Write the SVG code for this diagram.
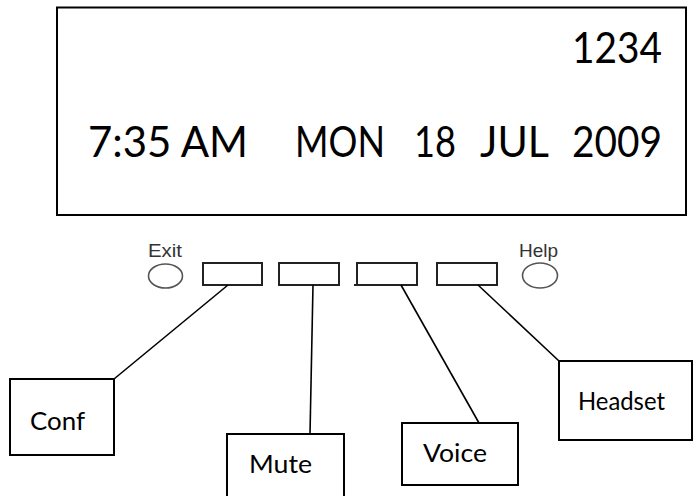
<svg xmlns="http://www.w3.org/2000/svg" width="693" height="496" viewBox="0 0 693 496">
<style>
.box{fill:#fff;stroke:#000;stroke-width:2}
.key{fill:#fff;stroke:#222;stroke-width:2}
.led{fill:none;stroke:#555;stroke-width:1.6}
.big{font-family:Lato,"Open Sans",sans-serif;font-size:42px;fill:#000}
.lbl{font-family:Lato,"Open Sans",sans-serif;font-size:25px;fill:#000}
.small{font-family:"Liberation Sans",Arial,sans-serif;font-size:19px;fill:#333}
.conn{stroke:#000;stroke-width:1.6;fill:none}
</style>
<rect width="693" height="496" fill="#fff"/>
<g id="display">
<rect class="box" x="57" y="7.5" width="629" height="207.5" stroke-width="2.5"/>
<text class="big" x="572" y="63" textLength="90" lengthAdjust="spacingAndGlyphs">1234</text>
<text class="big" x="88" y="157" textLength="160" lengthAdjust="spacingAndGlyphs">7:35 AM</text>
<text class="big" x="295" y="157" textLength="90" lengthAdjust="spacingAndGlyphs">MON</text>
<text class="big" x="414" y="157" textLength="42" lengthAdjust="spacingAndGlyphs">18</text>
<text class="big" x="480" y="157" textLength="69" lengthAdjust="spacingAndGlyphs">JUL</text>
<text class="big" x="572" y="157" textLength="90" lengthAdjust="spacingAndGlyphs">2009</text>
</g>
<g id="exit">
<text class="small" x="148" y="257" textLength="34" lengthAdjust="spacingAndGlyphs">Exit</text>
<ellipse class="led" cx="165.5" cy="276" rx="17" ry="12"/>
</g>
<g id="help">
<text class="small" x="519" y="257" textLength="39" lengthAdjust="spacingAndGlyphs">Help</text>
<ellipse class="led" cx="540" cy="275.5" rx="17.5" ry="12.5"/>
</g>
<g id="key1"><rect class="key" x="203" y="263" width="59" height="22"/></g>
<g id="key2"><rect class="key" x="279" y="263" width="60" height="22"/></g>
<g id="key3"><rect class="key" x="357" y="263" width="60" height="22"/><line x1="354" y1="285" x2="357" y2="285" stroke="#222" stroke-width="2"/></g>
<g id="key4"><rect class="key" x="437" y="263" width="60" height="22"/></g>
<g id="connectors">
<line class="conn" x1="228" y1="285" x2="114" y2="379"/>
<line class="conn" x1="313" y1="285" x2="310" y2="434"/>
<line class="conn" x1="401" y1="285" x2="479" y2="423"/>
<line class="conn" x1="478" y1="285" x2="559" y2="361"/>
</g>
<g id="conf">
<rect class="box" x="10" y="379" width="104" height="76"/>
<text class="lbl" x="30" y="430" textLength="55" lengthAdjust="spacingAndGlyphs">Conf</text>
</g>
<g id="mute">
<rect class="box" x="227" y="434" width="117" height="70"/>
<text class="lbl" x="249" y="473" textLength="63" lengthAdjust="spacingAndGlyphs">Mute</text>
</g>
<g id="voice">
<rect class="box" x="402" y="423" width="116" height="62"/>
<text class="lbl" x="423" y="462" textLength="64" lengthAdjust="spacingAndGlyphs">Voice</text>
</g>
<g id="headset">
<rect class="box" x="559" y="361" width="133" height="79"/>
<text class="lbl" x="578" y="410" textLength="87" lengthAdjust="spacingAndGlyphs">Headset</text>
</g>
</svg>
